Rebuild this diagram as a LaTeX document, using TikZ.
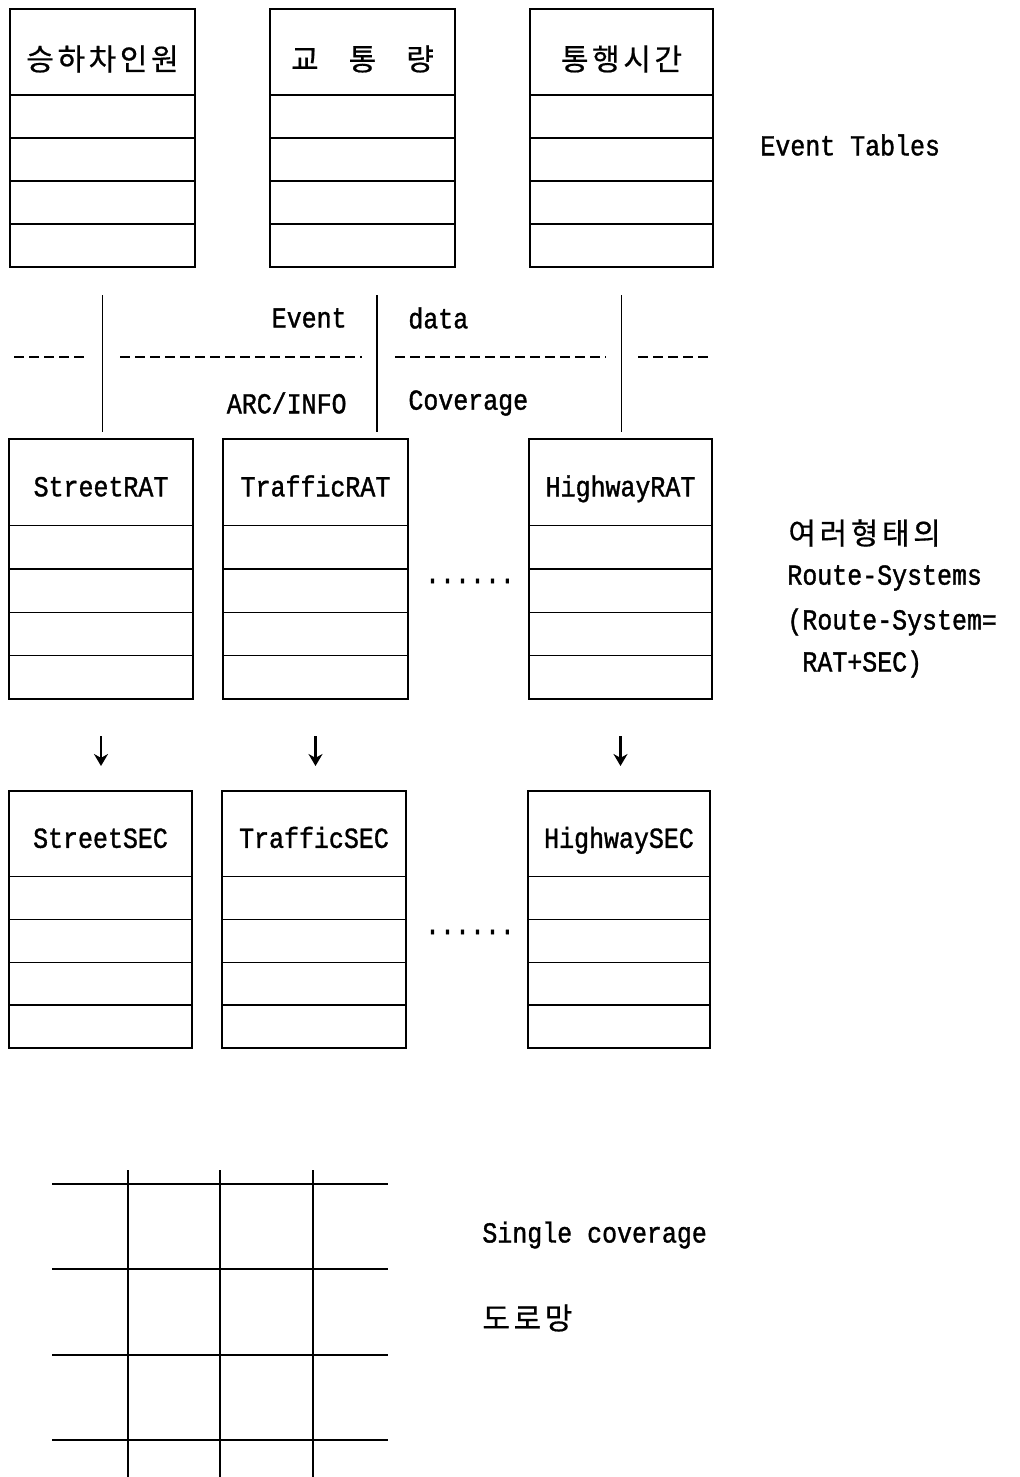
\documentclass[tikz,border=0pt]{standalone}
\usepackage{fontspec}
\setmainfont{Liberation Mono}[FakeBold=1.2, FakeStretch=0.86]
\newfontfamily\kor{Noto Sans CJK KR}[LetterSpace=12, FakeBold=0.6]
\usetikzlibrary{calc,arrows.meta}

\tikzset{
  tabframe/.style={draw, line width=0.8pt, inner sep=0pt, outer sep=0pt},
  tabline/.style={line width=0.8pt},
  titletext/.style={inner sep=0pt, text height=8pt, text depth=0pt, yshift=-3pt,
    font=\fontsize{14.5}{16}\selectfont},
  kortitle/.style={inner sep=0pt, yshift=-3.5pt, font=\kor\fontsize{15}{17}\selectfont},
  label/.style={inner sep=0pt, font=\fontsize{14.5}{16}\selectfont},
  korlabel/.style={inner sep=0pt, font=\kor\fontsize{15}{17}\selectfont},
  link/.style={line width=0.8pt},
  sep/.style={line width=0.8pt, dash pattern=on 5pt off 2.5pt},
  arr/.style={line width=1.1pt, -{Stealth[length=6pt,width=7pt]}},
  road/.style={line width=0.8pt}
}

% table: name, left, top, right, bottom, title style, title
\newcommand\dbtab[7]{%
  \node[tabframe, anchor=north west,
        minimum width={(#4-#2)*0.5pt}, minimum height={(#5-#3)*0.5pt}] (#1) at (#2,#3) {};
  \foreach \k in {2,...,5}
    \draw[tabline] ($(#1.north west)!\k/6!(#1.south west)$) -- ($(#1.north east)!\k/6!(#1.south east)$);
  \node[#6] (#1-title) at ($(#1.north)!1/6!(#1.south)$) {#7};
}

\begin{document}
\begin{tikzpicture}[x=0.5pt, y=-0.5pt]
\useasboundingbox (0,0) rectangle (1020,1477);

% event tables
\dbtab{T1}{10}{9}{195}{267}{kortitle}{승하차인원}
\dbtab{T2}{270}{9}{455}{267}{kortitle}{교\hspace{15pt}통\hspace{15pt}량}
\dbtab{T3}{530}{9}{713}{267}{kortitle}{통행시간}
\node[label, anchor=west] (evt) at (760,145) {Event Tables};

% route attribute tables
\dbtab{SR}{9}{439}{193}{699}{titletext}{StreetRAT}
\dbtab{TR}{223}{439}{408}{699}{titletext}{TrafficRAT}
\dbtab{HR}{529}{439}{712}{699}{titletext}{HighwayRAT}
\node[label] (dots1) at (470,581) {......};

% section tables
\dbtab{SS}{9}{791}{192}{1048}{titletext}{StreetSEC}
\dbtab{TS}{222}{791}{406}{1048}{titletext}{TrafficSEC}
\dbtab{HS}{528}{791}{710}{1048}{titletext}{HighwaySEC}
\node[label] (dots2) at (470,932) {......};

% event data / coverage boundary
\draw[link, shorten <=14pt, shorten >=3.5pt] (T1.south) -- (T1.south |- SR.north);
\coordinate (midtop) at (377,295);
\coordinate (midbot) at (377,432);
\draw[link] (midtop) -- (midbot);
\draw[link, shorten <=14pt, shorten >=3.5pt] (T3.south) -- (T3.south |- HR.north);

\draw[sep] (14,357) -- (88,357);
\draw[sep] (120,357) -- (362,357);
\draw[sep] (395,357) -- (606,357);
\draw[sep] (638,357) -- (712,357);

\node[label, anchor=east] (lev) at (347,318) {Event};
\node[label, anchor=west] (lda) at (408,318) {data};
\node[label, anchor=east] (lai) at (347,403) {ARC/INFO};
\node[label, anchor=west] (lco) at (408,403) {Coverage};

% RAT -> SEC
\draw[arr, shorten <=18.5pt, shorten >=12.5pt] (SR.south) -- (SR.south |- SS.north);
\draw[arr, shorten <=18.5pt, shorten >=12.5pt] (TR.south) -- (TR.south |- TS.north);
\draw[arr, shorten <=18.5pt, shorten >=12.5pt] (HR.south) -- (HR.south |- HS.north);

% route system legend
\node[korlabel, anchor=west] (rs0) at (788,533) {여러형태의};
\node[label, anchor=west] (rs1) at (787,578) {Route-Systems};
\node[label, anchor=west] (rs2) at (787,622) {(Route-System=};
\node[label, anchor=west] (rs3) at (802,664) {RAT+SEC)};

% road network coverage
\foreach \yy in {1184,1269,1355,1440}
  \draw[road] (52,\yy) -- (388,\yy);
\foreach \xx in {128,220,313}
  \draw[road] (\xx,1170) -- (\xx,1477);
\node[label, anchor=west] (single) at (482,1235) {Single coverage};
\node[korlabel, anchor=west] (roadnet) at (482,1318) {도로망};
\end{tikzpicture}
\end{document}
